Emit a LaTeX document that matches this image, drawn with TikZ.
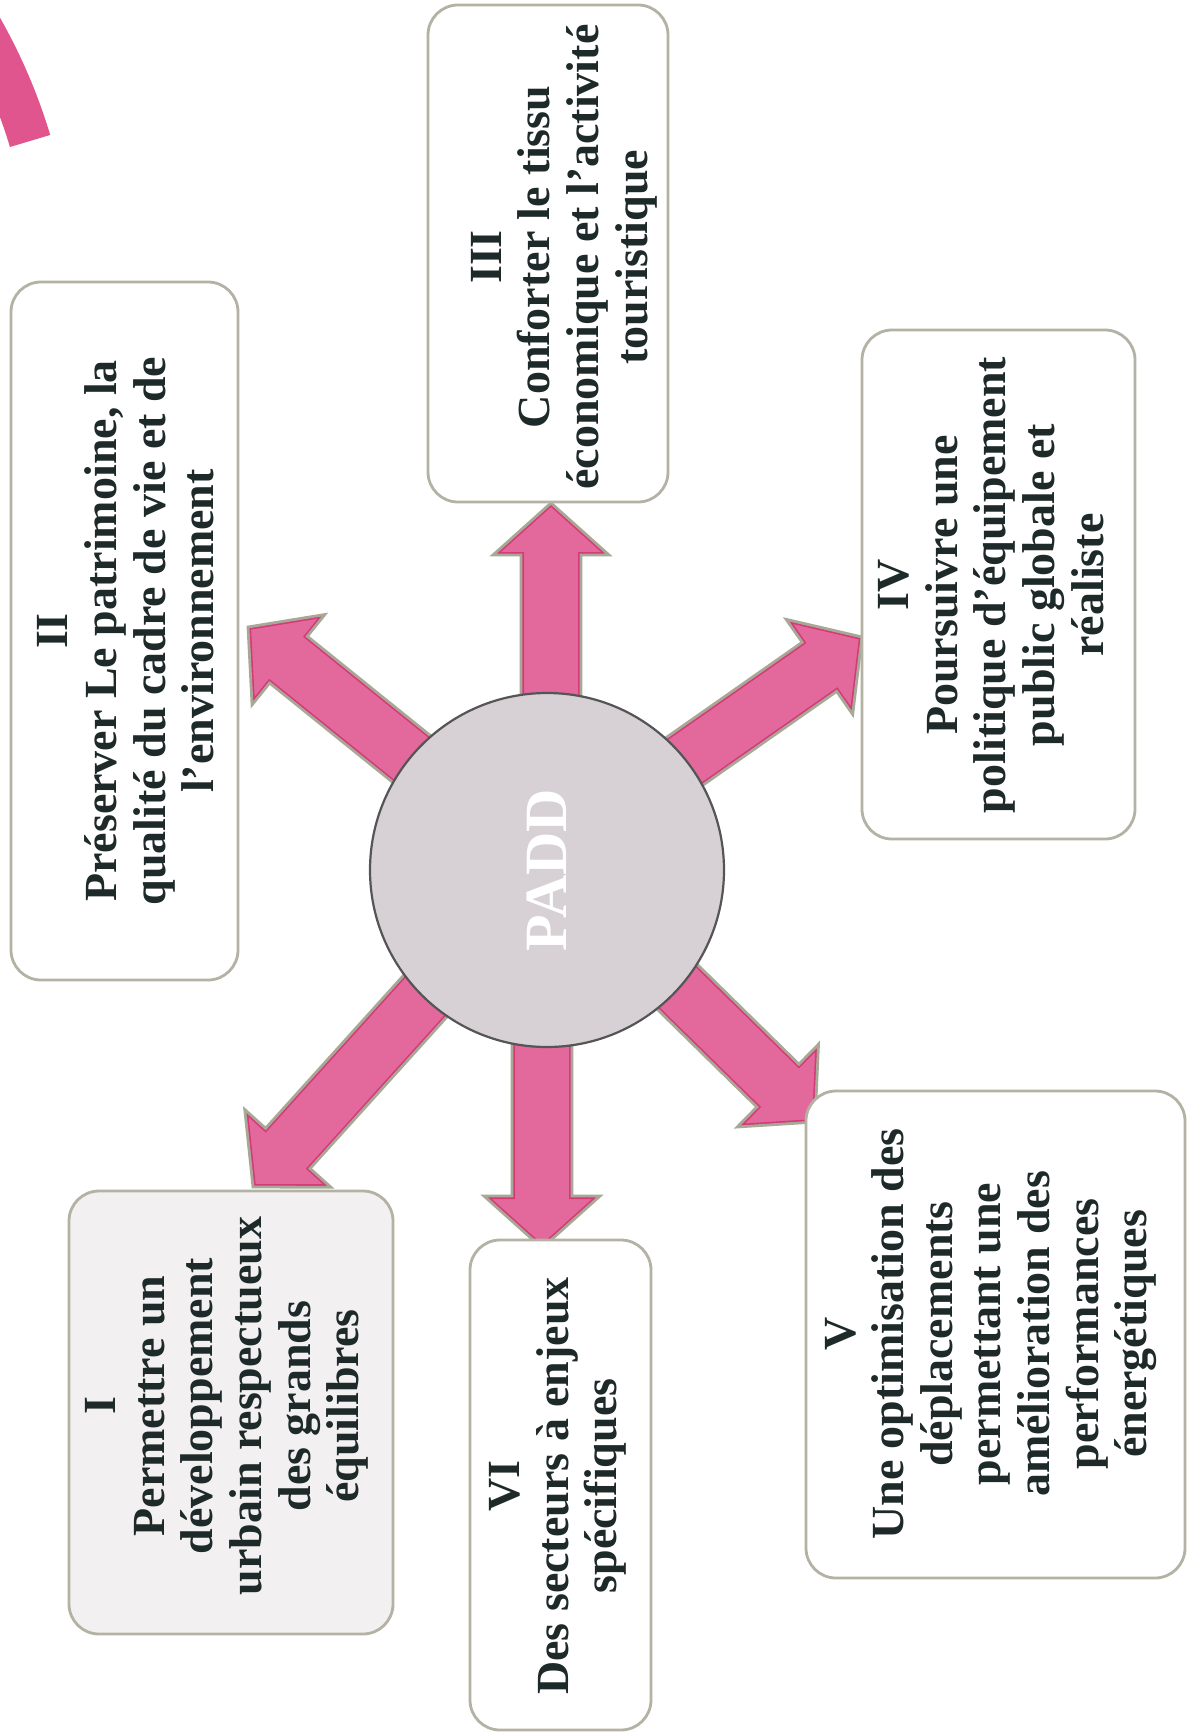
\documentclass[tikz,border=0pt]{standalone}
\usepackage{fontspec}
\setmainfont{Liberation Serif}
\usetikzlibrary{calc}
\definecolor{pinkfill}{HTML}{E3699D}
\definecolor{pinkdark}{HTML}{D53A78}
\definecolor{arrowedge}{HTML}{A9A897}
\definecolor{boxedge}{HTML}{B4B2A4}
\definecolor{txtcol}{HTML}{1E2A29}
\definecolor{circfill}{HTML}{D7D0D4}
\definecolor{circedge}{HTML}{555555}
\definecolor{arcpink}{HTML}{E0558E}
\newcommand\blockarrow[3]{%
  \coordinate (#1b) at ($(#3)!26pt!(#2)$);
  \coordinate (#1p1) at ($(#2)!15pt!90:(#3)$);
  \coordinate (#1p2) at ($(#1b)!15pt!90:(#3)$);
  \coordinate (#1p3) at ($(#1b)!29pt!90:(#3)$);
  \coordinate (#1p5) at ($(#1b)!29pt!-90:(#3)$);
  \coordinate (#1p6) at ($(#1b)!15pt!-90:(#3)$);
  \coordinate (#1p7) at ($(#2)!15pt!-90:(#3)$);
  \fill[pinkfill] (#1p1) -- (#1p2) -- (#1p3) -- (#3) -- (#1p5) -- (#1p6) -- (#1p7) -- cycle;
  \begin{scope}
    \clip (#1p1) -- (#1p2) -- (#1p3) -- (#3) -- (#1p5) -- (#1p6) -- (#1p7) -- cycle;
    \draw[pinkdark, line width=3pt, line join=miter] (#1p1) -- (#1p2) -- (#1p3) -- (#3) -- (#1p5) -- (#1p6) -- (#1p7) -- cycle;
  \end{scope}
  \draw[blockarr] (#1p1) -- (#1p2) -- (#1p3) -- (#3) -- (#1p5) -- (#1p6) -- (#1p7) -- cycle;
}
\begin{document}
\begin{tikzpicture}[x=0.5pt,y=-0.5pt,
  blockarr/.style={draw=arrowedge, line width=1.4pt, line join=miter},
  box/.style={draw=boxedge, line width=1.4pt, rounded corners=15pt, fill=white, inner sep=0pt, outer sep=0pt},
  txt/.style={rotate=90, align=center, text=txtcol, font=\bfseries\fontsize{23}{24.3}\selectfont, inner sep=0pt},
  hub/.style={circle, fill=circfill, draw=circedge, line width=1.1pt, minimum size=177pt, inner sep=0pt, text=white, font=\bfseries\fontsize{30}{30}\selectfont}]
\useasboundingbox (0,0) rectangle (1195,1736);
\fill[white] (0,0) rectangle (1195,1736);
% decorative arc
\begin{scope}
\clip (0,0) rectangle (1195,1736);
\coordinate (ac) at (-490,297);
\fill[arcpink] ([shift={(ac)}] 16.7:282pt) arc[start angle=16.7, end angle=55, radius=282pt] -- ([shift={(ac)}] 55:261pt) arc[start angle=55, end angle=16.7, radius=261pt] -- cycle;
\end{scope}
% arrow coordinates
\coordinate (s3) at (551,870);
\coordinate (t3) at (551,503);
\coordinate (s6) at (542,870);
\coordinate (t6) at (542,1248);
\coordinate (s2) at (548,869);
\coordinate (t2) at (248,627);
\coordinate (s4) at (548,857);
\coordinate (t4) at (862,637);
\coordinate (s1) at (548,860);
\coordinate (t1) at (253,1187);
\coordinate (s5) at (548,860);
\coordinate (t5) at (815,1122);
\blockarrow{a3}{s3}{t3}
\blockarrow{a6}{s6}{t6}
\blockarrow{a2}{s2}{t2}
\blockarrow{a4}{s4}{t4}
\blockarrow{a1}{s1}{t1}
\blockarrow{a5}{s5}{t5}
% hub
\node[hub, rotate=90] (padd) at (547,870) {PADD};
% boxes
\node[box, minimum width=113.5pt, minimum height=349pt] (b2) at (124.5,631) {};
\node[box, minimum width=120pt, minimum height=248.5pt] (b3) at (548,253.5) {};
\node[box, minimum width=136.5pt, minimum height=254.5pt] (b4) at (998.5,584.5) {};
\node[box, minimum width=162pt, minimum height=221.5pt, fill={rgb,255:red,242;green,240;blue,241}] (b1) at (231,1412.5) {};
\node[box, minimum width=90.5pt, minimum height=245pt] (b6) at (560.5,1485) {};
\node[box, minimum width=189.5pt, minimum height=243.5pt] (b5) at (995.5,1334.5) {};
% texts
\node[txt] (x2) at (126,631) {II\\Préserver Le patrimoine, la\\qualité du cadre de vie et de\\l’environnement};
\node[txt] (x3) at (564,257) {III\\Conforter le tissu\\économique et l’activité\\touristique};
\node[txt] (x4) at (991,585) {IV\\Poursuivre une\\politique d’équipement\\public globale et\\réaliste};
\node[txt] (x1) at (227,1406) {I\\Permettre un\\développement\\urbain respectueux\\des grands\\équilibres};
\node[txt] (x6) at (558,1486) {VI\\Des secteurs à enjeux\\spécifiques};
\node[txt] (x5) at (991,1334) {V\\Une optimisation des\\déplacements\\permettant une\\amélioration des\\performances\\énergétiques};
\end{tikzpicture}
\end{document}
